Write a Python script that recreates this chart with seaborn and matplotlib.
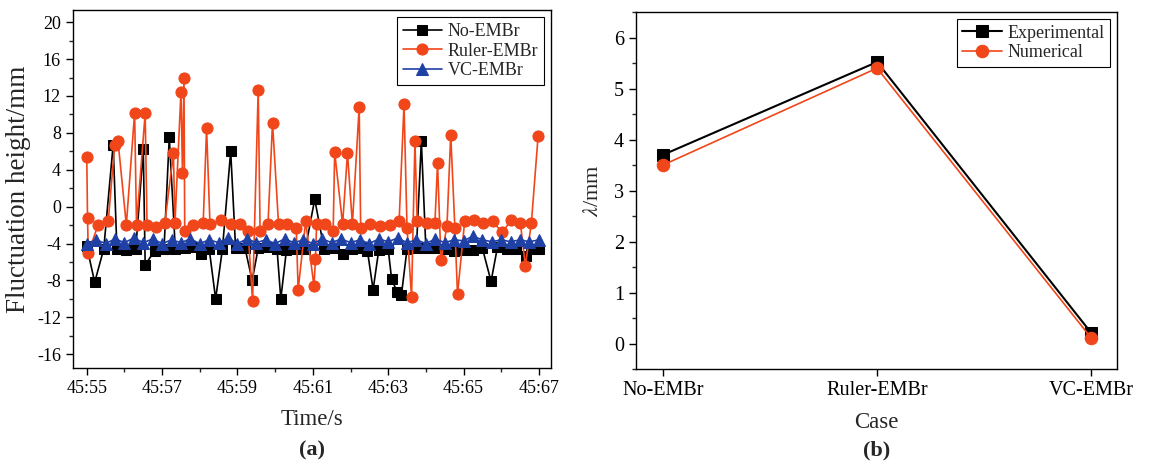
import numpy as np
import pandas as pd
import matplotlib
matplotlib.use("Agg")
import matplotlib.pyplot as plt
from matplotlib.ticker import MultipleLocator, FixedLocator
import seaborn as sns

# ---------------- data: panel (a) ----------------
no_embr_time = [55.00, 55.21, 55.45, 55.70, 55.80, 56.05, 56.30, 56.50, 56.55, 56.80,
                57.05, 57.19, 57.35, 57.60, 57.80, 58.04, 58.25, 58.42, 58.60, 58.82,
                58.95, 59.20, 59.39, 59.55, 59.80, 60.05, 60.15, 60.30, 60.55, 60.80,
                61.05, 61.30, 61.55, 61.79, 62.05, 62.30, 62.45, 62.60, 62.75, 63.00,
                63.09, 63.24, 63.35, 63.50, 63.75, 63.88, 64.00, 64.25, 64.50, 64.75,
                65.00, 65.25, 65.50, 65.73, 65.90, 66.15, 66.40, 66.65, 66.80, 67.00]
no_embr_height = [-4.3, -8.2, -4.6, 6.7, -4.6, -4.7, -4.6, 6.2, -6.3, -4.8,
                  -4.6, 7.5, -4.6, -4.5, -4.4, -5.1, -4.6, -10.0, -4.6, 6.0,
                  -4.5, -4.5, -8.0, -4.5, -4.4, -4.6, -10.0, -4.7, -4.6, -4.6,
                  0.8, -4.6, -4.5, -5.1, -4.6, -4.5, -4.8, -9.0, -4.7, -4.6,
                  -7.8, -9.3, -9.6, -4.6, -4.5, 7.1, -4.5, -4.5, -4.6, -4.8,
                  -4.7, -4.7, -4.5, -8.1, -4.4, -4.6, -4.6, -5.3, -4.6, -4.6]

ruler_time = [55.00, 55.02, 55.04, 55.30, 55.57, 55.74, 55.83, 56.05, 56.27, 56.32,
              56.55, 56.60, 56.83, 57.07, 57.30, 57.34, 57.50, 57.54, 57.58, 57.60,
              57.82, 58.09, 58.18, 58.27, 58.57, 58.84, 59.06, 59.28, 59.40, 59.55,
              59.60, 59.81, 59.93, 60.09, 60.32, 60.56, 60.61, 60.81, 61.03, 61.07,
              61.10, 61.32, 61.54, 61.58, 61.79, 61.92, 62.05, 62.23, 62.27, 62.51,
              62.78, 63.04, 63.29, 63.42, 63.50, 63.62, 63.71, 63.77, 64.02, 64.24,
              64.31, 64.40, 64.56, 64.66, 64.77, 64.84, 65.03, 65.27, 65.52, 65.77,
              66.03, 66.27, 66.51, 66.64, 66.80, 66.98]
ruler_height = [5.4, -1.2, -5.0, -2.0, -1.6, 6.7, 7.1, -2.0, 10.2, -2.0,
                10.1, -2.0, -2.2, -1.8, 5.8, -1.8, 12.4, 3.7, 13.9, -2.6,
                -2.0, -1.8, 8.5, -1.9, -1.5, -1.9, -1.9, -2.6, -10.2, 12.6,
                -2.6, -1.9, 9.1, -1.9, -1.9, -2.3, -9.0, -1.6, -8.6, -5.7,
                -1.9, -1.9, -2.6, 5.9, -1.9, 5.8, -1.9, 10.8, -2.3, -1.9,
                -2.1, -2.0, -1.6, 11.1, -2.3, -9.8, 7.1, -1.6, -1.8, -1.8,
                4.7, -5.8, -2.1, 7.8, -2.3, -9.5, -1.6, -1.5, -1.8, -1.6,
                -2.8, -1.4, -1.8, -6.4, -1.8, 7.7]

vc_time = list(np.arange(55.0, 67.001, 0.25))
vc_height = [-4.0, -3.6, -4.0, -3.5, -3.9, -3.4, -3.9, -3.5, -4.0, -3.6,
             -3.9, -3.5, -4.0, -3.6, -3.9, -3.4, -4.0, -3.5, -3.9, -3.6,
             -4.0, -3.5, -3.9, -3.6, -4.0, -3.5, -3.9, -3.5, -3.9, -3.6,
             -4.0, -3.5, -3.8, -3.4, -3.9, -3.6, -4.0, -3.5, -3.9, -3.6,
             -3.7, -3.2, -3.6, -3.8, -3.6, -3.8, -3.6, -3.8, -3.6]

time_ticks = [55, 57, 59, 61, 63, 65, 67]
time_labels = ["45:55", "45:57", "45:59", "45:61", "45:63", "45:65", "45:67"]
height_ticks = [20, 16, 12, 8, 4, 0, -4, -8, -12, -16]

# ---------------- data: panel (b) ----------------
cases = ["No-EMBr", "Ruler-EMBr", "VC-EMBr"]
experimental = [3.7, 5.52, 0.21]
numerical = [3.5, 5.40, 0.11]

BLACK = "#000000"
ORANGE = "#F0461A"
BLUE = "#1F40A5"

sns.set_style("ticks")
plt.rcParams["font.family"] = ["Liberation Serif", "DejaVu Serif"]
plt.rcParams["mathtext.fontset"] = "stix"
plt.rcParams["axes.linewidth"] = 1.0

fig = plt.figure(figsize=(11.56, 4.63), dpi=100)
ax1 = fig.add_axes([0.063, 0.205, 0.4136, 0.773])
ax2 = fig.add_axes([0.5502, 0.203, 0.4161, 0.771])

# ---- panel (a)
df_no = pd.DataFrame({"t": no_embr_time, "h": no_embr_height})
df_ru = pd.DataFrame({"t": ruler_time, "h": ruler_height})
df_vc = pd.DataFrame({"t": vc_time, "h": vc_height})

sns.lineplot(data=df_no, x="t", y="h", ax=ax1, color=BLACK, marker="s", markersize=7.5,
             markeredgecolor=BLACK, linewidth=1.2, estimator=None, sort=False,
             label="No-EMBr", zorder=2)
sns.lineplot(data=df_ru, x="t", y="h", ax=ax1, color=ORANGE, marker="o", markersize=8,
             markeredgecolor=ORANGE, linewidth=1.2, estimator=None, sort=False,
             label="Ruler-EMBr", zorder=3)
sns.lineplot(data=df_vc, x="t", y="h", ax=ax1, color=BLUE, marker="^", markersize=8,
             markeredgecolor=BLUE, linewidth=1.2, estimator=None, sort=False,
             label="VC-EMBr", zorder=4)

ax1.set_xlim(54.63, 67.32)
ax1.set_ylim(-17.5, 21.3)
ax1.xaxis.set_major_locator(FixedLocator(time_ticks))
ax1.set_xticklabels(time_labels)
ax1.xaxis.set_minor_locator(MultipleLocator(1))
ax1.set_yticks(height_ticks)
ax1.set_yticklabels([str(v) for v in height_ticks])
ax1.yaxis.set_minor_locator(MultipleLocator(2))
ax1.set_xlabel("Time/s", fontsize=16.5, labelpad=9)
ax1.set_ylabel("Fluctuation height/mm", fontsize=19.5, labelpad=4)
ax1.text(0.5, -0.229, "(a)", transform=ax1.transAxes, ha="center", va="center",
         fontsize=16, fontweight="bold")

leg1 = ax1.legend(loc="upper right", fontsize=13, frameon=True, fancybox=False,
                  edgecolor=BLACK, framealpha=1, handlelength=2.2, borderpad=0.3,
                  labelspacing=0.15, handletextpad=0.3, borderaxespad=0.4)
leg1.get_frame().set_linewidth(0.8)

# ---- panel (b)
x_pos = np.arange(len(cases))
df_exp = pd.DataFrame({"x": x_pos, "v": experimental})
df_num = pd.DataFrame({"x": x_pos, "v": numerical})
sns.lineplot(data=df_exp, x="x", y="v", ax=ax2, color=BLACK,
             marker="s", markersize=8, markeredgecolor=BLACK, linewidth=1.5,
             estimator=None, sort=False, label="Experimental")
sns.lineplot(data=df_num, x="x", y="v", ax=ax2, color=ORANGE,
             marker="o", markersize=9, markeredgecolor=ORANGE, linewidth=1.2,
             estimator=None, sort=False, label="Numerical")

ax2.set_xlim(-0.126, 2.121)
ax2.set_ylim(-0.5, 6.5)
ax2.set_xticks(x_pos)
ax2.set_xticklabels(cases)
ax2.yaxis.set_major_locator(MultipleLocator(1))
ax2.yaxis.set_minor_locator(MultipleLocator(0.5))
ax2.set_xlabel("Case", fontsize=16.5, labelpad=9)
ax2.set_ylabel(r"$\lambda$/mm", fontsize=16, labelpad=8)
ax2.text(0.5, -0.229, "(b)", transform=ax2.transAxes, ha="center", va="center",
         fontsize=16, fontweight="bold")
leg2 = ax2.legend(loc="upper right", fontsize=13, frameon=True, fancybox=False,
                  edgecolor=BLACK, framealpha=1, handlelength=2.2, borderpad=0.3,
                  labelspacing=0.15, handletextpad=0.3, borderaxespad=0.4)
leg2.get_frame().set_linewidth(0.8)

ax1.tick_params(axis="both", which="major", direction="out", length=5, width=1,
                labelsize=13, colors=BLACK)
ax2.tick_params(axis="both", which="major", direction="out", length=5, width=1,
                labelsize=14.5, colors=BLACK)
for ax in (ax1, ax2):
    ax.tick_params(axis="both", which="minor", direction="out", length=3, width=1)
    for s in ax.spines.values():
        s.set_visible(True)
        s.set_color(BLACK)
        s.set_linewidth(1.0)

fig.savefig("out.png", dpi=100)
